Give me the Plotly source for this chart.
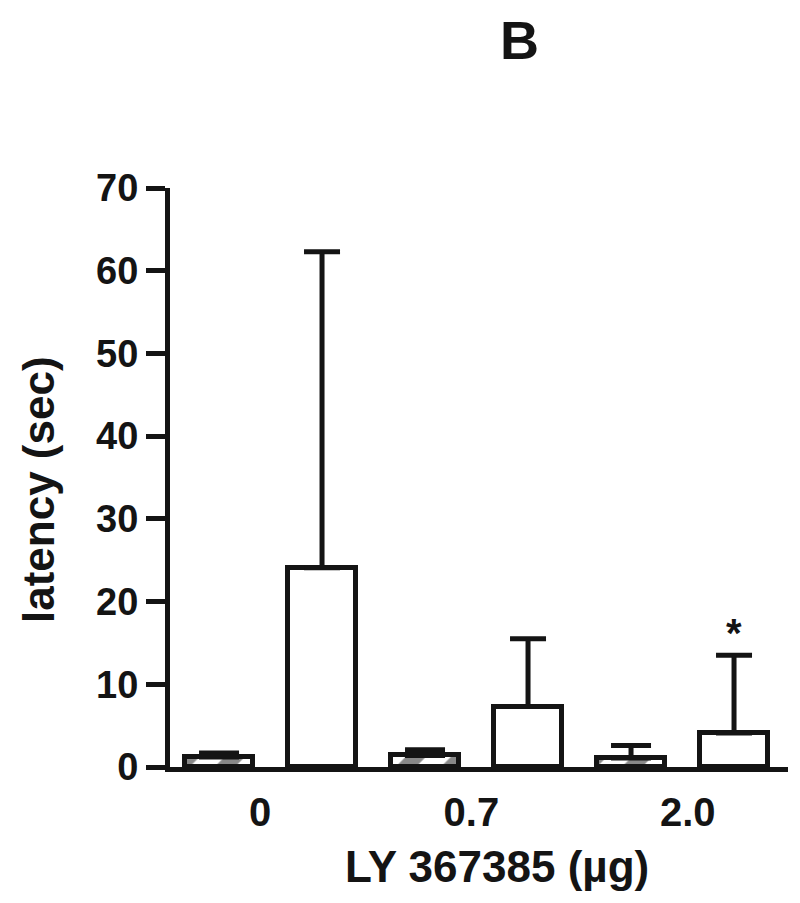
import plotly.graph_objects as go

# --- datos ---
dosis = ["0", "0.7", "2.0"]
latencia_rayada = [1.2, 1.4, 1.1]
error_rayada = [0.5, 0.7, 1.5]
latencia_blanca = [24.1, 7.3, 4.1]
error_blanca = [38.2, 8.2, 9.4]
marca_significativa = ["", "", "*"]

fuente = "Liberation Sans, Arial, sans-serif"
negro = "#141414"

# posiciones: cada grupo tiene barra rayada y barra blanca
x_rayada = [2 * i for i in range(len(dosis))]
x_blanca = [2 * i + 1 for i in range(len(dosis))]
x_etiquetas = [0.4, 2.45, 4.55]

# area del grafico (la pagina suma 8px de margen en el body)
L, T, W, H = 162, 180, 618, 579

fig = go.Figure()

fig.add_trace(go.Bar(
    x=x_rayada, y=latencia_rayada, width=0.66,
    marker=dict(color="white", line=dict(color=negro, width=5),
                pattern=dict(shape="/", fgcolor=negro, bgcolor="white",
                             size=32, solidity=0.45)),
    error_y=dict(type="data", symmetric=False, array=error_rayada,
                 arrayminus=[0] * len(dosis), color=negro, thickness=5, width=20),
    showlegend=False,
))

fig.add_trace(go.Bar(
    x=x_blanca, y=latencia_blanca, width=0.66,
    marker=dict(color="white", line=dict(color=negro, width=5)),
    error_y=dict(type="data", symmetric=False, array=error_blanca,
                 arrayminus=[0] * len(dosis), color=negro, thickness=5, width=18),
    showlegend=False,
))

# asteriscos sobre las barras significativas
for xb, yb, eb, m in zip(x_blanca, latencia_blanca, error_blanca, marca_significativa):
    if m:
        fig.add_annotation(x=xb, y=yb + eb, text=m, showarrow=False, yshift=22,
                           font=dict(family=fuente, size=40, color=negro, weight="bold"))

def papel(px, py):
    return (px - L) / W, 1 - (py - T) / H

bx, by = papel(511, 32)
fig.add_annotation(x=bx, y=by, xref="paper", yref="paper", text="B", showarrow=False,
                   xanchor="center", yanchor="middle",
                   font=dict(family=fuente, size=54, color=negro, weight="bold"))

tx, ty = papel(489, 858)
fig.add_annotation(x=tx, y=ty, xref="paper", yref="paper", text="LY 367385 (µg)",
                   showarrow=False, xanchor="center", yanchor="middle",
                   font=dict(family=fuente, size=44, color=negro, weight="bold"))

yx, yy = papel(30, 482)
fig.add_annotation(x=yx, y=yy, xref="paper", yref="paper", text="latency (sec)",
                   showarrow=False, xanchor="center", yanchor="middle", textangle=-90,
                   font=dict(family=fuente, size=44, color=negro, weight="bold"))

fig.update_layout(
    width=792, height=895,
    margin=dict(l=L, r=792 - L - W, t=T, b=895 - T - H),
    plot_bgcolor="white", paper_bgcolor="white",
    bargap=0, barmode="overlay",
)

fig.update_xaxes(
    range=[-0.476, 5.524],
    tickmode="array", tickvals=x_etiquetas, ticktext=dosis,
    ticks="", showgrid=False, zeroline=False,
    showline=True, linecolor=negro, linewidth=5,
    ticklabelstandoff=6,
    tickfont=dict(family=fuente, size=40, color=negro, weight="bold"),
)

fig.update_yaxes(
    range=[0, 70], tickvals=[0, 10, 20, 30, 40, 50, 60, 70],
    ticks="outside", ticklen=19, tickwidth=5, tickcolor=negro,
    showgrid=False, zeroline=False,
    showline=True, linecolor=negro, linewidth=5,
    tickfont=dict(family=fuente, size=38, color=negro, weight="bold"),
)

fig.write_html("out.html")
